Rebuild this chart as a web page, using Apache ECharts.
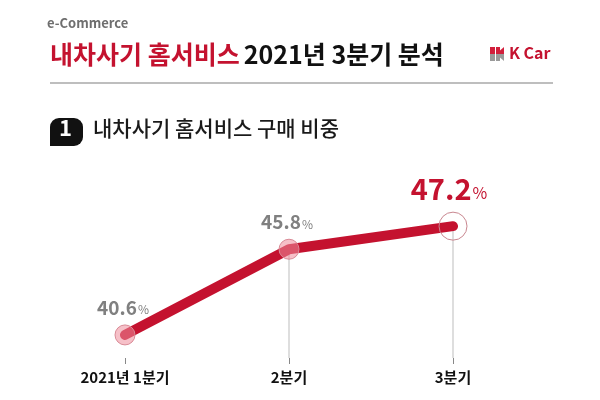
<!DOCTYPE html>
<html>
<head>
<meta charset="utf-8">
<script src="https://cdn.jsdelivr.net/npm/echarts@6/dist/echarts.min.js"></script>
<style>
  html, body { margin: 0; padding: 0; background: #fff; }
  #main { width: 600px; height: 400px; }
</style>
</head>
<body>
<div id="main"></div>
<script>
// 분기별 구매 비중 (%)
var quarters = ['2021년 1분기', '2분기', '3분기'];
var shares = [40.6, 45.8, 47.2];

var RED = '#c4122f';
var FONT = '"Noto Sans CJK KR", "Noto Sans", sans-serif';

var chart = echarts.init(document.getElementById('main'));

// 점 모양: 1,2분기는 분홍 원, 3분기는 빈 큰 원
var lineData = shares.map(function (v, i) {
    var last = i === shares.length - 1;
    return {
        value: v,
        symbolSize: last ? 28 : 20,
        itemStyle: last ? {
            color: 'rgba(255,255,255,0)',
            borderColor: '#c98790',
            borderWidth: 1
        } : {
            color: 'rgba(238,140,155,0.55)',
            borderColor: '#d98a96',
            borderWidth: 1
        },
        label: last ? {
            offset: [-4, 0],
            distance: 8,
            formatter: '{big|{c}}{bp|%}'
        } : {
            offset: [-2, 0],
            distance: 7,
            formatter: '{v|{c}}{p|%}'
        }
    };
});

var option = {
    backgroundColor: '#fff',
    textStyle: { fontFamily: FONT },
    animation: false,
    title: {
        text: '{r|내차사기 홈서비스} {k|2021년 3분기 분석}',
        left: 45,
        top: 37,
        textStyle: {
            rich: {
                r: { fontFamily: FONT, fontSize: 25, fontWeight: 'bold', color: RED },
                k: { fontFamily: FONT, fontSize: 25, fontWeight: 'bold', color: '#111' }
            }
        }
    },
    grid: { left: 125, right: 147, top: 180, bottom: 42 },
    xAxis: {
        type: 'category',
        data: quarters,
        boundaryGap: false,
        axisLine: { show: false },
        axisTick: { show: true, alignWithLabel: true, length: 6, lineStyle: { color: '#888' } },
        axisLabel: {
            margin: 12,
            color: '#111',
            fontSize: 15,
            fontWeight: 'bold',
            fontFamily: FONT
        },
        splitLine: { show: false }
    },
    yAxis: {
        type: 'value',
        min: 39.2,
        max: 50,
        show: false
    },
    series: [
        {
            // 점에서 축까지 내려오는 가는 선
            type: 'bar',
            barWidth: 1,
            silent: true,
            itemStyle: { color: '#bdbdbd' },
            data: [null, shares[1], shares[2]],
            z: 1
        },
        {
            type: 'line',
            data: lineData,
            symbol: 'circle',
            lineStyle: { color: RED, width: 10, cap: 'round', join: 'round' },
            label: {
                show: true,
                position: 'top',
                rich: {
                    v: { fontFamily: FONT, fontSize: 19, fontWeight: 'bold', color: '#808080' },
                    p: { fontFamily: FONT, fontSize: 12, color: '#808080', padding: [4, 0, 0, 1] },
                    big: { fontFamily: FONT, fontSize: 29, fontWeight: 'bold', color: RED },
                    bp: { fontFamily: FONT, fontSize: 16, color: RED, padding: [8, 0, 0, 1] }
                }
            },
            z: 3
        }
    ],
    graphic: [
        {
            type: 'text', left: 47, top: 17,
            style: { text: 'e-Commerce', fill: '#6e6e6e', font: 'bold 13px ' + FONT }
        },
        {
            type: 'line',
            shape: { x1: 50, y1: 83, x2: 553, y2: 83 },
            style: { stroke: '#a8a8a8', lineWidth: 1.5 }
        },
        // K Car 로고
        {
            type: 'group', left: 490, top: 47,
            children: [
                { type: 'rect', shape: { x: 0, y: 0, width: 5, height: 7 }, style: { fill: '#d21f3c' } },
                { type: 'rect', shape: { x: 0, y: 7, width: 5, height: 7 }, style: { fill: '#9a9a9a' } },
                { type: 'polygon', shape: { points: [[6, 7], [14, 0], [14, 7]] }, style: { fill: '#d21f3c' } },
                { type: 'polygon', shape: { points: [[6, 7], [14, 7], [14, 14]] }, style: { fill: '#9a9a9a' } },
                { type: 'rect', shape: { x: 6, y: 0, width: 4, height: 7 }, style: { fill: '#d21f3c' } },
                { type: 'rect', shape: { x: 6, y: 7, width: 4, height: 7 }, style: { fill: '#9a9a9a' } }
            ]
        },
        {
            type: 'text', left: 509, top: 45,
            style: { text: 'K Car', fill: RED, font: '600 16px ' + FONT }
        },
        // 번호 배지
        {
            type: 'rect',
            shape: { x: 50, y: 118, width: 33, height: 28, r: [9, 9, 9, 0] },
            style: { fill: '#111' }
        },
        {
            type: 'text', left: 59, top: 117,
            style: { text: '1', fill: '#fff', font: 'bold 22px ' + FONT }
        },
        {
            type: 'text', left: 93, top: 118,
            style: { text: '내차사기 홈서비스 구매 비중', fill: '#1a1a1a', font: '500 21px ' + FONT }
        }
    ]
};

chart.setOption(option);
</script>
</body>
</html>
